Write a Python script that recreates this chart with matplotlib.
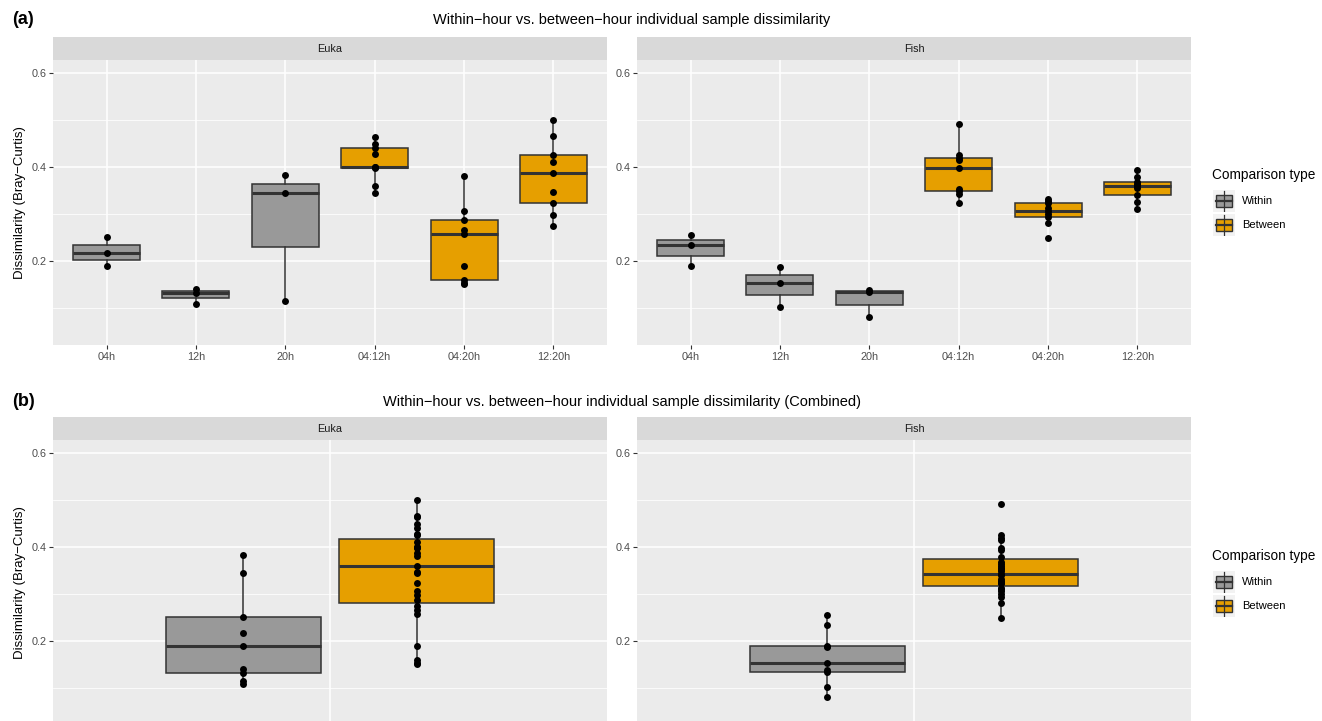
import numpy as np
import matplotlib
matplotlib.use("Agg")
import matplotlib.pyplot as plt
from matplotlib.patches import Rectangle

plt.rcParams['font.family'] = ['Liberation Sans', 'DejaVu Sans']

# Data: Bray-Curtis dissimilarity per comparison
categories = ['04h', '12h', '20h', '04:12h', '04:20h', '12:20h']
comp_type = ['Within', 'Within', 'Within', 'Between', 'Between', 'Between']

euka_values = [
    [0.190, 0.216, 0.251],
    [0.109, 0.132, 0.141],
    [0.114, 0.344, 0.384],
    [0.345, 0.359, 0.399, 0.400, 0.401, 0.428, 0.441, 0.450, 0.465],
    [0.150, 0.153, 0.159, 0.189, 0.258, 0.266, 0.287, 0.306, 0.381],
    [0.275, 0.297, 0.324, 0.346, 0.387, 0.410, 0.426, 0.467, 0.500],
]
fish_values = [
    [0.189, 0.234, 0.255],
    [0.101, 0.152, 0.187],
    [0.081, 0.133, 0.139],
    [0.324, 0.343, 0.348, 0.354, 0.399, 0.414, 0.420, 0.425, 0.491],
    [0.248, 0.280, 0.294, 0.300, 0.306, 0.312, 0.323, 0.327, 0.331],
    [0.311, 0.326, 0.341, 0.355, 0.359, 0.363, 0.368, 0.379, 0.394],
]
panels = ['Euka', 'Fish']
panel_values = [euka_values, fish_values]

colors = {'Within': '#999999', 'Between': '#E69F00'}
W, H = 1322, 721
fig = plt.figure(figsize=(W / 100, H / 100), dpi=100)

PANEL_BG = '#EBEBEB'
EDGE = '#333333'
YLIM = (0.021, 0.628)


def style_axes(ax, label_left):
    ax.set_facecolor(PANEL_BG)
    for s in ax.spines.values():
        s.set_visible(False)
    ax.set_ylim(*YLIM)
    ax.set_yticks([0.2, 0.4, 0.6])
    ax.set_yticks([0.1, 0.3, 0.5], minor=True)
    ax.set_yticklabels(['0.2', '0.4', '0.6'])
    ax.grid(which='major', axis='both', color='white', lw=1.1)
    ax.grid(which='minor', axis='y', color='white', lw=0.55)
    ax.set_axisbelow(True)
    ax.tick_params(axis='both', which='major', length=2.7, width=0.8, color='#333333',
                   labelsize=7.8, labelcolor='#4D4D4D', pad=2)
    ax.tick_params(axis='both', which='minor', length=0)
    if label_left:
        ax.set_ylabel('Dissimilarity (Bray\u2212Curtis)', fontsize=9.5, color='black', labelpad=4)


def strip(ax, text):
    h = 23 / 285
    ax.add_patch(Rectangle((0, 1), 1, h, transform=ax.transAxes, facecolor='#D9D9D9',
                           edgecolor='none', clip_on=False))
    ax.text(0.5, 1 + h / 2, text, transform=ax.transAxes, ha='center', va='center',
            fontsize=7.8, color='#1A1A1A')


def draw_box(ax, data, pos, width, color):
    bp = ax.boxplot([data], positions=[pos], widths=width, patch_artist=True,
                    showfliers=False, showcaps=False, whis=1.5,
                    boxprops=dict(facecolor=color, edgecolor=EDGE, lw=1.1),
                    whiskerprops=dict(color=EDGE, lw=1.1),
                    medianprops=dict(color=EDGE, lw=2.2), zorder=2)
    ax.scatter(np.full(len(data), pos), data, s=25, color='black', zorder=3, lw=0)
    return bp


def legend(fig_y):
    fig.text(1212 / W, 1 - fig_y / H, 'Comparison type', fontsize=9.8, va='center', ha='left')
    for i, lab in enumerate(['Within', 'Between']):
        yc = fig_y + 26 + i * 24
        lax = fig.add_axes([1213 / W, 1 - (yc + 11) / H, 22 / W, 22 / H])
        lax.set_xlim(0, 1)
        lax.set_ylim(0, 1)
        lax.set_facecolor('#F2F2F2')
        for s in lax.spines.values():
            s.set_visible(False)
        lax.set_xticks([])
        lax.set_yticks([])
        lax.plot([0.5, 0.5], [0.05, 0.95], color=EDGE, lw=0.9)
        lax.add_patch(Rectangle((0.12, 0.22), 0.76, 0.56, facecolor=colors[lab], edgecolor=EDGE, lw=1.0))
        lax.plot([0.12, 0.88], [0.5, 0.5], color=EDGE, lw=1.6)
        fig.text(1242 / W, 1 - yc / H, lab, fontsize=8, va='center', ha='left')


# Layout (pixels)
panel_x = [(53, 607), (637, 1191)]
top_y = (60, 345)
bot_y = (440, 725)

# (a) per-hour comparisons
for i, (name, vals) in enumerate(zip(panels, panel_values)):
    x0, x1 = panel_x[i]
    ax = fig.add_axes([x0 / W, 1 - top_y[1] / H, (x1 - x0) / W, (top_y[1] - top_y[0]) / H])
    style_axes(ax, i == 0)
    for j, (cat, v) in enumerate(zip(categories, vals)):
        draw_box(ax, v, j + 1, 0.75, colors[comp_type[j]])
    ax.set_xlim(0.4, len(categories) + 0.6)
    ax.set_xticks(range(1, len(categories) + 1))
    ax.set_xticklabels(categories)
    strip(ax, name)

fig.text(12 / W, 1 - 20 / H, '(a)', fontsize=13, fontweight='bold', va='center', ha='left')
fig.text(632 / W, 1 - 20 / H, 'Within\u2212hour vs. between\u2212hour individual sample dissimilarity',
         fontsize=10.5, va='center', ha='center')
legend(175)

# (b) combined
for i, (name, vals) in enumerate(zip(panels, panel_values)):
    x0, x1 = panel_x[i]
    ax = fig.add_axes([x0 / W, 1 - bot_y[1] / H, (x1 - x0) / W, (bot_y[1] - bot_y[0]) / H])
    style_axes(ax, i == 0)
    within = sum([v for v, t in zip(vals, comp_type) if t == 'Within'], [])
    between = sum([v for v, t in zip(vals, comp_type) if t == 'Between'], [])
    draw_box(ax, within, 1 - 0.1875, 0.3375, colors['Within'])
    draw_box(ax, between, 1 + 0.1875, 0.3375, colors['Between'])
    ax.set_xlim(0.4, 1.6)
    ax.set_xticks([1])
    ax.set_xticklabels([''])
    strip(ax, name)

fig.text(12 / W, 1 - 402 / H, '(b)', fontsize=13, fontweight='bold', va='center', ha='left')
fig.text(622 / W, 1 - 402 / H,
         'Within\u2212hour vs. between\u2212hour individual sample dissimilarity (Combined)',
         fontsize=10.5, va='center', ha='center')
legend(556)

fig.savefig('out.png', dpi=100)
